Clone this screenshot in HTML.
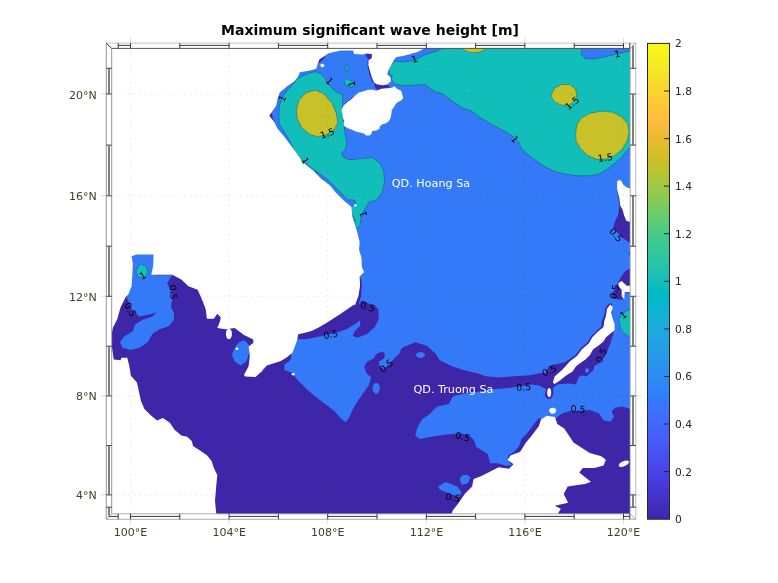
<!DOCTYPE html>
<html><head><meta charset="utf-8"><title>Maximum significant wave height</title>
<style>html,body{margin:0;padding:0;background:#fff}svg{display:block;will-change:transform}text{font-family:"DejaVu Sans","Liberation Sans",sans-serif}</style></head><body>
<svg width="778" height="583" viewBox="0 0 778 583">
<defs>
<linearGradient id="cb" x1="0" y1="1" x2="0" y2="0">
<stop offset="0.0000" stop-color="#3e26a8"/>
<stop offset="0.0159" stop-color="#402ab4"/>
<stop offset="0.0317" stop-color="#422ec0"/>
<stop offset="0.0476" stop-color="#4332cb"/>
<stop offset="0.0635" stop-color="#4537d5"/>
<stop offset="0.0794" stop-color="#463cde"/>
<stop offset="0.0952" stop-color="#4741e5"/>
<stop offset="0.1111" stop-color="#4747eb"/>
<stop offset="0.1270" stop-color="#484df0"/>
<stop offset="0.1429" stop-color="#4852f4"/>
<stop offset="0.1587" stop-color="#4758f8"/>
<stop offset="0.1746" stop-color="#465efb"/>
<stop offset="0.1905" stop-color="#4563fd"/>
<stop offset="0.2063" stop-color="#4269fe"/>
<stop offset="0.2222" stop-color="#3e6fff"/>
<stop offset="0.2381" stop-color="#3875fe"/>
<stop offset="0.2540" stop-color="#327cfc"/>
<stop offset="0.2698" stop-color="#2f81fa"/>
<stop offset="0.2857" stop-color="#2e87f7"/>
<stop offset="0.3016" stop-color="#2d8cf3"/>
<stop offset="0.3175" stop-color="#2b91ef"/>
<stop offset="0.3333" stop-color="#2797eb"/>
<stop offset="0.3492" stop-color="#259be8"/>
<stop offset="0.3651" stop-color="#23a0e5"/>
<stop offset="0.3810" stop-color="#20a5e3"/>
<stop offset="0.3968" stop-color="#1ca9df"/>
<stop offset="0.4127" stop-color="#18addb"/>
<stop offset="0.4286" stop-color="#12b1d6"/>
<stop offset="0.4444" stop-color="#08b5d0"/>
<stop offset="0.4603" stop-color="#01b8ca"/>
<stop offset="0.4762" stop-color="#02bac3"/>
<stop offset="0.4921" stop-color="#0bbdbd"/>
<stop offset="0.5079" stop-color="#19bfb6"/>
<stop offset="0.5238" stop-color="#24c1ae"/>
<stop offset="0.5397" stop-color="#2cc4a7"/>
<stop offset="0.5556" stop-color="#31c69f"/>
<stop offset="0.5714" stop-color="#37c897"/>
<stop offset="0.5873" stop-color="#3fca8e"/>
<stop offset="0.6032" stop-color="#4acb84"/>
<stop offset="0.6190" stop-color="#57cc7a"/>
<stop offset="0.6349" stop-color="#64cd6f"/>
<stop offset="0.6508" stop-color="#72cd64"/>
<stop offset="0.6667" stop-color="#81cc59"/>
<stop offset="0.6825" stop-color="#8fcb4e"/>
<stop offset="0.6984" stop-color="#9dc943"/>
<stop offset="0.7143" stop-color="#abc739"/>
<stop offset="0.7302" stop-color="#b9c431"/>
<stop offset="0.7460" stop-color="#c5c22a"/>
<stop offset="0.7619" stop-color="#d1bf27"/>
<stop offset="0.7778" stop-color="#dcbd29"/>
<stop offset="0.7937" stop-color="#e6bb2d"/>
<stop offset="0.8095" stop-color="#f0ba36"/>
<stop offset="0.8254" stop-color="#f8ba3d"/>
<stop offset="0.8413" stop-color="#febe3c"/>
<stop offset="0.8571" stop-color="#fec338"/>
<stop offset="0.8730" stop-color="#fec934"/>
<stop offset="0.8889" stop-color="#fccf30"/>
<stop offset="0.9048" stop-color="#fad62d"/>
<stop offset="0.9206" stop-color="#f7dc2a"/>
<stop offset="0.9365" stop-color="#f5e327"/>
<stop offset="0.9524" stop-color="#f5e924"/>
<stop offset="0.9683" stop-color="#f6ef20"/>
<stop offset="0.9841" stop-color="#f7f51b"/>
<stop offset="1.0000" stop-color="#f9fb15"/>
</linearGradient>
<clipPath id="clip"><rect x="112" y="48" width="518" height="466"/></clipPath>
</defs>
<rect width="778" height="583" fill="#fff"/>
<g clip-path="url(#clip)" shape-rendering="geometricPrecision">
<path d="M100.0 30.0 L645.0 30.0 L645.0 530.0 L100.0 530.0Z" fill="#347af8"/>
<path d="M100.0 246.0 L215.0 246.0 L275.0 340.0 L280.0 352.0 L287.0 353.2 L291.6 354.5 L290.5 359.9 L284.5 364.5 L284.3 370.1 L291.3 372.4 L298.2 380.5 L306.3 388.7 L315.6 396.8 L324.9 403.7 L334.1 410.7 L341.1 418.8 L345.7 422.2 L349.2 417.6 L352.7 409.5 L357.3 401.4 L363.1 393.3 L368.9 385.2 L371.2 377.1 L366.6 373.6 L364.2 366.7 L366.6 362.0 L373.5 358.5 L377.0 353.4 L382.8 351.6 L386.2 355.1 L389.7 359.7 L394.4 357.4 L396.7 351.6 L403.6 347.0 L415.2 342.3 L426.8 345.8 L436.0 353.9 L439.5 360.1 L451.1 365.9 L465.0 370.5 L476.6 372.9 L485.8 376.3 L499.7 377.5 L513.6 376.3 L529.8 375.2 L541.4 372.9 L545.7 372.9 L548.6 366.3 L557.2 364.1 L564.0 362.4 L569.2 359.5 L575.2 355.2 L580.8 348.3 L587.7 342.3 L591.1 336.3 L596.3 331.2 L601.4 326.4 L602.1 320.5 L604.2 315.4 L605.2 308.5 L608.6 303.7 L612.0 303.4 L612.0 312.3 L612.9 324.3 L614.1 331.2 L632.6 329.9 L640.0 530.0 L100.0 530.0Z" fill="#3e26a8"/>
<path d="M358.4 275.4 L361.2 278.9 L361.9 285.8 L361.0 296.2 L358.4 305.0 L361.9 300.6 L375.8 306.4 L378.6 309.9 L378.6 319.2 L374.7 327.3 L366.6 334.2 L357.3 337.7 L352.7 335.8 L355.0 330.7 L360.1 326.1 L360.1 320.3 L357.3 322.6 L348.0 328.4 L338.8 331.9 L323.7 335.4 L315.6 337.2 L306.3 339.3 L298.2 339.3 L294.7 330.7 L329.5 316.8 L352.7 300.6 L356.1 299.7 L357.3 278.9Z" fill="#3e26a8"/>
<path d="M617.4 191.6 L618.7 200.1 L619.4 206.3 L617.9 215.6 L614.8 221.7 L613.3 227.9 L621.7 237.2 L632.6 244.9 L632.6 187.8Z" fill="#3e26a8"/>
<path d="M632.6 267.0 L624.8 271.6 L621.0 277.0 L617.9 282.5 L614.8 289.4 L611.7 294.0 L612.5 297.9 L618.7 299.4 L623.6 299.4 L624.8 292.5 L632.6 292.5Z" fill="#3e26a8"/>
<path d="M628.7 251.6 L632.6 251.6 L632.6 256.2 L629.2 255.4Z" fill="#3e26a8"/>
<path d="M317.7 58.7 L323.9 54.8 L325.4 57.1 L321.6 61.0 L318.5 63.3Z" fill="#3e26a8"/>
<path d="M365.6 53.6 L371.8 53.3 L372.5 57.9 L369.5 60.2 L366.4 57.1Z" fill="#3e26a8"/>
<path d="M374.1 82.3 L377.2 83.4 L382.6 85.7 L387.2 84.5 L390.3 87.2 L382.6 88.8 L378.0 90.3 L374.9 87.2Z" fill="#3e26a8"/>
<path d="M344.7 103.5 L350.2 99.6 L354.8 95.7 L356.3 98.1 L348.6 105.0Z" fill="#3e26a8"/>
<path d="M367.9 58.7 L368.7 65.6 L370.5 71.8 L372.1 77.2 L374.6 82.6 L372.5 82.6 L369.5 74.9 L367.5 65.6Z" fill="#3e26a8"/>
<path d="M268.1 115.8 L271.6 112.3 L273.9 121.6 L270.4 119.3Z" fill="#3e26a8"/>
<path d="M415.2 435.4 L417.5 427.3 L422.1 419.2 L429.1 414.5 L437.2 406.4 L448.8 404.1 L453.4 396.0 L467.3 393.0 L481.2 391.4 L495.1 389.1 L509.0 387.9 L532.1 384.4 L539.1 385.6 L546.0 389.1 L544.8 396.1 L547.6 399.1 L551.3 398.4 L553.4 393.8 L553.1 388.0 L557.3 384.5 L568.9 383.4 L575.8 384.5 L578.1 378.7 L580.5 375.3 L586.2 376.4 L593.2 370.6 L594.4 366.0 L599.0 363.5 L605.9 354.2 L610.6 342.7 L614.7 328.8 L632.6 328.8 L632.6 408.9 L630.3 408.9 L622.1 406.5 L615.2 407.7 L611.7 411.2 L614.0 417.0 L610.6 421.6 L603.6 420.4 L599.0 413.5 L589.7 410.0 L568.9 411.2 L561.9 413.5 L556.1 418.1 L546.9 415.8 L541.1 419.3 L538.8 418.1 L534.1 423.9 L527.2 433.2 L521.4 439.0 L519.1 445.9 L514.4 451.7 L508.6 455.2 L507.5 459.8 L512.1 465.6 L505.2 465.6 L498.2 463.3 L490.1 463.3 L487.8 454.0 L482.0 450.5 L476.2 447.1 L473.9 440.1 L469.3 435.5 L460.0 433.2 L448.8 434.2 L432.5 436.6 L419.8 438.9Z" fill="#347af8"/>
<path d="M131.6 253.9 L154.8 253.9 L154.8 275.2 L172.2 275.2 L167.1 282.9 L170.6 289.8 L172.2 299.1 L171.0 307.2 L174.0 313.0 L173.8 319.9 L168.7 326.2 L159.4 329.2 L152.5 333.8 L147.9 341.9 L139.7 347.7 L130.5 350.0 L122.4 347.7 L120.1 341.9 L124.7 336.1 L132.8 331.5 L135.1 324.5 L142.1 319.9 L152.5 316.4 L156.4 312.3 L151.3 314.1 L139.7 316.4 L132.8 310.7 L127.0 297.9 L125.8 286.3 L128.2 263.2Z" fill="#347af8"/>
<path d="M384.9 353.1 L390.6 354.3 L396.9 349.8 L401.8 347.7 L399.3 353.4 L393.9 358.8 L388.8 364.2 L383.8 368.7 L379.5 366.6 L378.9 362.1 L384.3 357.9Z" fill="#347af8"/>
<path d="M238.2 343.1 L244.0 340.1 L248.6 344.2 L249.1 353.5 L246.3 361.6 L240.5 365.6 L234.7 361.6 L231.9 354.7 L234.7 347.7Z" fill="#347af8"/>
<path d="M379.8 388.3 L379.5 390.4 L378.7 392.1 L377.6 393.3 L376.2 393.7 L374.8 393.3 L373.7 392.1 L372.9 390.4 L372.6 388.3 L372.9 386.2 L373.7 384.5 L374.8 383.3 L376.2 382.9 L377.6 383.3 L378.7 384.5 L379.5 386.2Z" fill="#347af8"/>
<path d="M425.0 355.0 L424.7 356.1 L423.7 357.1 L422.2 357.8 L420.5 358.0 L418.8 357.8 L417.3 357.1 L416.3 356.1 L416.0 355.0 L416.3 353.9 L417.3 352.9 L418.8 352.2 L420.5 352.0 L422.2 352.2 L423.7 352.9 L424.7 353.9Z" fill="#347af8"/>
<path d="M461.7 476.2 L467.6 474.7 L470.6 477.6 L466.2 483.6 L461.7 485.0 L460.3 480.6Z" fill="#347af8"/>
<path d="M438.1 486.5 L445.5 482.1 L457.3 486.5 L461.7 492.4 L458.8 496.9 L446.9 492.4 L439.6 489.5Z" fill="#347af8"/>
<path d="M469.2 479.5 L468.8 481.3 L467.9 482.8 L466.4 483.7 L464.6 484.1 L462.8 483.7 L461.3 482.8 L460.4 481.3 L460.0 479.5 L460.4 477.7 L461.3 476.2 L462.8 475.3 L464.6 474.9 L466.4 475.3 L467.9 476.2 L468.8 477.7Z" fill="#347af8"/>
<path d="M589.0 370.5 L588.8 371.5 L588.4 372.3 L587.8 372.8 L587.0 373.0 L586.2 372.8 L585.6 372.3 L585.2 371.5 L585.0 370.5 L585.2 369.5 L585.6 368.7 L586.2 368.2 L587.0 368.0 L587.8 368.2 L588.4 368.7 L588.8 369.5Z" fill="#347af8"/>
<path d="M302.8 75.8 L309.8 72.9 L315.6 71.7 L320.3 73.5 L324.4 77.6 L328.4 83.4 L333.1 89.2 L337.8 92.7 L342.4 94.5 L342.7 102.6 L341.8 110.8 L342.5 115.0 L344.1 124.4 L345.0 133.4 L346.8 142.4 L345.9 147.8 L341.4 154.1 L344.1 157.7 L349.5 159.9 L362.1 158.6 L372.9 157.7 L380.1 163.2 L383.7 171.3 L384.6 182.1 L381.9 192.9 L376.5 200.1 L369.3 201.9 L366.6 206.4 L365.5 207.8 L362.4 213.2 L360.8 219.3 L359.7 226.3 L358.5 227.6 L355.4 227.6 L355.2 220.9 L353.1 216.3 L351.2 212.4 L351.4 206.6 L355.8 204.0 L354.7 200.3 L351.6 199.7 L348.0 200.1 L338.8 190.8 L327.2 179.3 L314.4 170.0 L317.9 173.7 L306.3 163.3 L294.7 152.9 L291.3 143.6 L283.2 129.7 L279.2 124.0 L278.9 114.3 L279.5 106.1 L281.2 100.3 L284.1 94.5 L288.8 88.6 L293.5 84.0 L297.0 79.3Z" fill="#12beb9" stroke="#000" stroke-width="0.45" stroke-opacity="0.55"/>
<path d="M389.3 73.9 L388.9 68.7 L391.7 64.6 L395.3 61.5 L403.0 61.8 L411.8 61.0 L420.0 57.4 L425.5 54.4 L437.1 50.9 L446.3 46.3 L580.0 34.7 L640.0 30.0 L640.0 150.0 L630.5 146.5 L624.3 154.1 L617.1 161.4 L608.1 168.6 L599.1 174.0 L590.1 175.8 L577.5 175.8 L564.9 174.0 L554.0 171.3 L545.0 166.8 L536.0 160.5 L527.0 154.1 L521.6 148.7 L518.9 142.4 L513.5 136.7 L504.2 130.9 L492.7 125.1 L481.1 118.1 L471.8 111.2 L462.5 107.7 L453.3 101.9 L442.9 93.8 L434.7 91.5 L425.5 84.5 L413.9 85.2 L403.6 85.4 L394.5 84.0 L391.4 79.5 L392.4 76.1Z" fill="#12beb9" stroke="#000" stroke-width="0.45" stroke-opacity="0.55"/>
<path d="M345.5 65.3 L346.8 64.7 L348.0 65.6 L348.1 68.4 L347.1 71.0 L345.8 70.6 L345.2 67.9Z" fill="#12beb9" stroke="#000" stroke-width="0.45" stroke-opacity="0.55"/>
<path d="M344.0 80.3 L346.3 78.3 L350.2 80.3 L354.8 83.4 L353.2 86.5 L348.6 86.9 L344.7 84.5Z" fill="#12beb9" stroke="#000" stroke-width="0.45" stroke-opacity="0.55"/>
<path d="M136.3 269.0 L140.9 263.9 L146.7 266.6 L147.9 272.4 L144.4 278.2 L138.6 277.1 L136.3 273.6Z" fill="#12beb9" stroke="#000" stroke-width="0.45" stroke-opacity="0.55"/>
<path d="M632.6 309.1 L630.3 309.1 L622.1 313.7 L618.7 319.5 L621.0 329.9 L626.8 335.7 L632.6 336.9Z" fill="#12beb9" stroke="#000" stroke-width="0.45" stroke-opacity="0.55"/>
<path d="M581.4 46.3 L581.4 54.4 L584.9 58.4 L594.1 59.1 L605.7 56.7 L617.3 53.7 L631.2 50.9 L631.2 46.3Z" fill="#347af8" stroke="#000" stroke-width="0.45" stroke-opacity="0.55"/>
<path d="M315.6 90.3 L323.7 93.8 L331.8 103.1 L336.4 113.5 L337.6 122.8 L334.1 129.7 L327.2 134.3 L317.9 136.7 L309.8 134.3 L301.7 127.4 L297.1 118.1 L296.6 108.9 L299.4 99.6 L306.3 92.6Z" fill="#c8c129" stroke="#000" stroke-width="0.45" stroke-opacity="0.55"/>
<path d="M551.7 93.8 L554.7 88.0 L561.7 84.5 L569.8 84.5 L575.6 89.2 L576.8 96.1 L573.3 101.9 L567.5 106.1 L560.5 104.7 L554.7 101.9 L551.7 97.3Z" fill="#c8c129" stroke="#000" stroke-width="0.45" stroke-opacity="0.55"/>
<path d="M575.6 134.3 L576.8 125.1 L581.4 118.1 L589.5 113.5 L601.1 111.2 L612.7 112.3 L621.9 117.0 L627.7 123.9 L628.9 132.0 L627.0 141.3 L621.9 149.4 L615.0 155.2 L605.7 159.1 L596.4 159.1 L587.2 155.2 L580.2 148.2 L576.3 141.3Z" fill="#c8c129" stroke="#000" stroke-width="0.45" stroke-opacity="0.55"/>
<path d="M462.5 46.3 L463.7 49.8 L468.3 51.9 L474.1 52.8 L479.9 51.9 L484.5 49.8 L485.7 46.3Z" fill="#c8c129" stroke="#000" stroke-width="0.45" stroke-opacity="0.55"/>
<path d="M440.0 30.0 L424.3 48.6 L418.1 51.7 L408.8 54.5 L402.7 56.0 L396.5 57.1 L394.2 59.4 L391.9 64.1 L388.8 69.5 L387.2 74.1 L390.3 77.2 L391.1 81.1 L387.2 84.5 L382.6 85.1 L377.2 84.5 L374.1 82.6 L371.8 77.2 L370.2 71.8 L368.4 65.6 L368.7 60.2 L371.8 57.9 L371.8 54.0 L366.4 53.6 L362.5 54.5 L354.0 54.0 L353.2 50.5 L340.9 50.5 L328.5 53.3 L323.9 56.4 L319.3 59.4 L317.7 64.1 L316.2 68.7 L310.0 70.6 L299.8 72.3 L298.2 76.4 L294.7 81.1 L287.8 85.7 L279.7 92.6 L277.4 99.6 L276.2 105.4 L269.3 115.8 L273.9 121.6 L277.4 128.5 L284.3 136.7 L291.3 145.9 L297.1 154.0 L304.0 163.3 L314.4 171.4 L320.7 178.6 L329.5 185.1 L336.4 193.2 L344.5 201.3 L351.5 207.1 L352.2 216.3 L355.0 224.4 L357.3 232.5 L359.6 241.8 L359.1 249.9 L361.5 258.0 L361.9 267.3 L364.2 271.9 L359.6 276.6 L360.1 285.8 L358.4 296.2 L355.0 305.0 L353.8 304.8 L348.0 308.7 L341.1 313.4 L334.1 318.0 L327.2 322.6 L319.1 327.3 L312.1 330.7 L304.0 333.1 L298.2 334.2 L297.1 340.0 L294.7 347.0 L292.4 352.8 L286.6 357.4 L280.8 360.9 L273.9 363.2 L266.9 365.5 L262.3 370.1 L260.0 373.6 L267.1 366.0 L255.6 377.1 L245.1 376.4 L244.0 375.0 L248.6 366.2 L249.8 355.8 L248.6 346.6 L253.3 343.1 L253.3 339.6 L244.0 335.0 L234.7 328.0 L225.5 329.2 L217.3 328.0 L219.7 322.2 L220.8 317.6 L217.3 313.7 L213.9 318.8 L206.9 318.8 L205.8 309.5 L202.3 300.2 L197.7 289.8 L188.4 286.3 L181.4 279.4 L172.2 274.7 L158.3 274.7 L151.3 274.7 L153.2 265.5 L153.6 254.4 L136.3 254.4 L131.6 256.2 L132.8 263.2 L132.3 274.7 L131.6 286.3 L128.2 294.4 L125.7 296.9 L120.6 307.2 L117.2 319.2 L112.9 327.7 L111.1 336.3 L111.7 346.6 L112.9 353.5 L113.7 359.5 L120.6 360.3 L121.4 357.8 L127.4 357.8 L128.3 362.0 L129.2 365.5 L130.9 375.8 L136.9 382.6 L138.6 390.0 L140.9 400.7 L144.4 408.9 L151.3 415.8 L157.1 420.4 L162.9 418.1 L169.9 422.8 L174.5 429.7 L181.4 435.5 L187.2 436.7 L191.9 441.3 L193.0 445.9 L200.0 450.5 L206.9 455.2 L211.6 461.0 L213.9 467.9 L217.3 474.9 L216.2 486.5 L215.0 501.0 L216.3 514.0 L216.3 530.0 L100.0 530.0 L100.0 30.0Z" fill="#ffffff"/>
<path d="M341.3 109.9 L343.9 105.2 L347.5 102.1 L351.1 99.6 L355.2 95.4 L358.8 92.4 L364.0 91.3 L368.1 89.8 L373.3 89.8 L376.3 90.8 L381.5 88.8 L387.7 88.2 L391.8 87.7 L394.4 86.2 L396.9 88.8 L401.1 90.8 L402.6 95.4 L403.1 98.5 L401.1 100.6 L398.0 102.1 L395.4 104.2 L393.9 107.3 L391.8 109.9 L391.3 114.5 L390.2 119.1 L388.7 121.2 L386.1 123.3 L382.5 124.3 L379.9 126.3 L379.4 128.9 L376.3 130.5 L372.2 131.0 L371.2 134.1 L369.6 135.6 L366.0 135.6 L364.0 133.6 L359.9 132.5 L355.7 131.5 L352.7 129.9 L348.5 128.4 L344.4 126.3 L343.4 123.3 L344.4 121.2 L342.9 118.1 L342.4 114.0Z" fill="#ffffff"/>
<path d="M451.4 520.5 L451.4 514.0 L452.9 510.2 L458.8 502.8 L464.7 493.9 L472.1 486.5 L473.6 479.1 L480.9 476.2 L489.8 471.7 L498.7 467.3 L509.0 468.8 L513.5 464.3 L507.5 459.9 L510.5 455.5 L520.2 451.7 L526.0 442.4 L531.8 435.5 L538.8 426.2 L541.1 419.3 L546.9 415.8 L555.0 417.0 L557.3 423.9 L564.2 428.5 L568.9 435.5 L573.5 442.4 L580.5 447.1 L589.7 452.9 L601.3 456.3 L605.9 459.8 L603.6 465.6 L594.4 467.9 L582.8 467.9 L579.3 472.6 L585.1 477.2 L590.9 481.8 L585.1 484.1 L575.8 485.3 L567.7 486.5 L563.7 493.9 L568.1 502.8 L554.8 505.7 L560.8 508.7 L557.8 514.0 L557.8 520.5Z" fill="#ffffff"/>
<path d="M552.9 382.6 L554.6 376.6 L562.3 369.8 L570.0 361.2 L576.9 356.0 L582.0 349.2 L588.9 343.2 L592.3 337.2 L597.5 332.0 L603.5 326.9 L604.3 320.9 L606.0 315.7 L606.9 308.9 L610.3 304.6 L612.9 307.2 L611.2 312.3 L612.9 319.2 L614.6 324.3 L614.6 330.3 L610.3 333.7 L606.0 337.2 L603.5 341.5 L598.3 345.7 L593.2 349.2 L589.7 355.2 L585.5 359.5 L580.3 362.9 L576.0 366.3 L572.6 371.5 L565.7 375.8 L560.6 380.1 L554.6 384.0Z" fill="#ffffff"/>
<path d="M617.1 181.6 L619.4 179.8 L621.7 181.6 L623.3 184.7 L627.2 187.8 L632.6 188.6 L632.6 222.5 L626.4 221.0 L624.1 215.6 L622.5 209.4 L620.2 205.5 L619.4 198.6 L617.9 192.4 L617.1 187.8Z" fill="#ffffff"/>
<path d="M618.4 282.9 L621.7 280.9 L626.7 285.8 L632.6 285.8 L632.6 291.9 L624.8 291.9 L624.2 299.6 L621.7 296.3 L621.7 289.7 L618.7 286.6Z" fill="#ffffff"/>
<path d="M356.7 205.4 L356.6 205.9 L356.3 206.3 L355.8 206.6 L355.3 206.7 L354.8 206.6 L354.3 206.3 L354.0 205.9 L353.9 205.4 L354.0 204.9 L354.3 204.5 L354.8 204.2 L355.3 204.1 L355.8 204.2 L356.3 204.5 L356.6 204.9Z" fill="#ffffff"/>
<path d="M294.9 374.2 L294.8 374.7 L294.4 375.0 L293.9 375.3 L293.2 375.4 L292.5 375.3 L292.0 375.0 L291.6 374.7 L291.5 374.2 L291.6 373.7 L292.0 373.4 L292.5 373.1 L293.2 373.0 L293.9 373.1 L294.4 373.4 L294.8 373.7Z" fill="#ffffff"/>
<path d="M551.2 392.6 L551.0 394.4 L550.6 395.9 L550.0 396.8 L549.2 397.2 L548.4 396.8 L547.8 395.9 L547.4 394.4 L547.2 392.6 L547.4 390.8 L547.8 389.3 L548.4 388.4 L549.2 388.0 L550.0 388.4 L550.6 389.3 L551.0 390.8Z" fill="#ffffff"/>
<path d="M556.2 410.7 L555.9 411.8 L555.2 412.8 L554.0 413.5 L552.7 413.7 L551.4 413.5 L550.2 412.8 L549.5 411.8 L549.2 410.7 L549.5 409.6 L550.2 408.6 L551.4 407.9 L552.7 407.7 L554.0 407.9 L555.2 408.6 L555.9 409.6Z" fill="#ffffff"/>
<path d="M628.8 461.5 L628.8 462.5 L628.1 463.8 L626.7 465.0 L624.9 466.1 L622.9 466.8 L621.0 467.0 L619.6 466.8 L618.8 466.1 L618.8 465.1 L619.5 463.8 L620.9 462.6 L622.7 461.5 L624.7 460.8 L626.6 460.6 L628.0 460.8Z" fill="#ffffff"/>
<path d="M231.9 333.8 L231.7 335.9 L231.0 337.7 L230.0 338.9 L228.9 339.3 L227.8 338.9 L226.8 337.7 L226.1 335.9 L225.9 333.8 L226.1 331.7 L226.8 329.9 L227.8 328.7 L228.9 328.3 L230.0 328.7 L231.0 329.9 L231.7 331.7Z" fill="#ffffff"/>
<path d="M238.3 348.8 L238.2 349.3 L237.9 349.7 L237.5 350.0 L237.0 350.1 L236.5 350.0 L236.1 349.7 L235.8 349.3 L235.7 348.8 L235.8 348.3 L236.1 347.9 L236.5 347.6 L237.0 347.5 L237.5 347.6 L237.9 347.9 L238.2 348.3Z" fill="#ffffff"/>
<path d="M320.5 64.1 L323.1 63.8 L324.7 65.6 L323.1 67.2 L320.8 66.9Z" fill="#ffffff"/>
</g>
<g stroke="#404026" stroke-opacity="0.17" stroke-width="1" stroke-dasharray="1.2 4.4" fill="none">
<line x1="130.5" y1="48.4" x2="130.5" y2="514.0"/>
<line x1="229.1" y1="48.4" x2="229.1" y2="514.0"/>
<line x1="327.7" y1="48.4" x2="327.7" y2="514.0"/>
<line x1="426.3" y1="48.4" x2="426.3" y2="514.0"/>
<line x1="524.9" y1="48.4" x2="524.9" y2="514.0"/>
<line x1="623.5" y1="48.4" x2="623.5" y2="514.0"/>
<line x1="111.5" y1="494.9" x2="630.0" y2="494.9"/>
<line x1="111.5" y1="395.9" x2="630.0" y2="395.9"/>
<line x1="111.5" y1="296.3" x2="630.0" y2="296.3"/>
<line x1="111.5" y1="195.8" x2="630.0" y2="195.8"/>
<line x1="111.5" y1="94.0" x2="630.0" y2="94.0"/>
</g>
<text x="282" y="98.4" font-size="9.4" fill="#000" text-anchor="middle" dominant-baseline="central" transform="rotate(-65 282 98.4)">1</text>
<text x="329.5" y="81" font-size="9.4" fill="#000" text-anchor="middle" dominant-baseline="central" transform="rotate(50 329.5 81)">1</text>
<text x="351.5" y="83.8" font-size="9.4" fill="#000" text-anchor="middle" dominant-baseline="central" transform="rotate(-100 351.5 83.8)">1</text>
<text x="327.2" y="133.2" font-size="9.4" fill="#000" text-anchor="middle" dominant-baseline="central" transform="rotate(-20 327.2 133.2)">1.5</text>
<text x="305.2" y="160.5" font-size="9.4" fill="#000" text-anchor="middle" dominant-baseline="central" transform="rotate(60 305.2 160.5)">1</text>
<text x="363" y="214" font-size="9.4" fill="#000" text-anchor="middle" dominant-baseline="central" transform="rotate(-105 363 214)">1</text>
<text x="414.4" y="59" font-size="9.4" fill="#000" text-anchor="middle" dominant-baseline="central" transform="rotate(-20 414.4 59)">1</text>
<text x="515" y="139" font-size="9.4" fill="#000" text-anchor="middle" dominant-baseline="central" transform="rotate(50 515 139)">1</text>
<text x="572" y="103" font-size="9.4" fill="#000" text-anchor="middle" dominant-baseline="central" transform="rotate(-40 572 103)">1.5</text>
<text x="605.2" y="157.5" font-size="9.4" fill="#000" text-anchor="middle" dominant-baseline="central" transform="rotate(-8 605.2 157.5)">1.5</text>
<text x="617.3" y="53.7" font-size="9.4" fill="#000" text-anchor="middle" dominant-baseline="central" transform="rotate(-10 617.3 53.7)">1</text>
<text x="616.3" y="234.9" font-size="9.4" fill="#000" text-anchor="middle" dominant-baseline="central" transform="rotate(50 616.3 234.9)">0.5</text>
<text x="614.3" y="291.7" font-size="9.4" fill="#000" text-anchor="middle" dominant-baseline="central" transform="rotate(-75 614.3 291.7)">0.5</text>
<text x="623.3" y="314.9" font-size="9.4" fill="#000" text-anchor="middle" dominant-baseline="central" transform="rotate(-35 623.3 314.9)">1</text>
<text x="601.3" y="355.4" font-size="9.4" fill="#000" text-anchor="middle" dominant-baseline="central" transform="rotate(-65 601.3 355.4)">0.5</text>
<text x="549.2" y="370.5" font-size="9.4" fill="#000" text-anchor="middle" dominant-baseline="central" transform="rotate(-25 549.2 370.5)">0.5</text>
<text x="523.7" y="386.8" font-size="9.4" fill="#000" text-anchor="middle" dominant-baseline="central" transform="rotate(-5 523.7 386.8)">0.5</text>
<text x="578.1" y="408.9" font-size="9.4" fill="#000" text-anchor="middle" dominant-baseline="central" transform="rotate(5 578.1 408.9)">0.5</text>
<text x="462.7" y="436.6" font-size="9.4" fill="#000" text-anchor="middle" dominant-baseline="central" transform="rotate(15 462.7 436.6)">0.5</text>
<text x="452.9" y="497.4" font-size="9.4" fill="#000" text-anchor="middle" dominant-baseline="central" transform="rotate(10 452.9 497.4)">0.5</text>
<text x="386.2" y="365.7" font-size="9.4" fill="#000" text-anchor="middle" dominant-baseline="central" transform="rotate(-40 386.2 365.7)">0.5</text>
<text x="367.7" y="306.4" font-size="9.4" fill="#000" text-anchor="middle" dominant-baseline="central" transform="rotate(20 367.7 306.4)">0.5</text>
<text x="330.7" y="334.2" font-size="9.4" fill="#000" text-anchor="middle" dominant-baseline="central" transform="rotate(-10 330.7 334.2)">0.5</text>
<text x="173.3" y="292.1" font-size="9.4" fill="#000" text-anchor="middle" dominant-baseline="central" transform="rotate(85 173.3 292.1)">0.5</text>
<text x="130.5" y="309.5" font-size="9.4" fill="#000" text-anchor="middle" dominant-baseline="central" transform="rotate(60 130.5 309.5)">0.5</text>
<text x="142.6" y="275.5" font-size="9.4" fill="#000" text-anchor="middle" dominant-baseline="central" transform="rotate(-30 142.6 275.5)">1</text>
<text x="391.8" y="186.9" font-size="11.2" fill="#fff">QD. Hoang Sa</text>
<text x="413.5" y="392.9" font-size="11.2" fill="#fff">QD. Truong Sa</text>
<g fill="none" stroke-width="1">
<path d="M106.3 43.1 L635.8 43.1" stroke="#dcdcdc" stroke-width="1.9"/>
<path d="M635.8 43.1 L635.8 519.3" stroke="#b4b4b4" stroke-width="0.9"/>
<path d="M106.3 43.1 L106.3 519.3" stroke="#8c8c8c" stroke-width="0.9"/>
<path d="M106.3 519.3 L635.8 519.3" stroke="#a4a4a4" stroke-width="0.9"/>
<path d="M111.7 48.4 L630.2 48.4" stroke="#565656" stroke-width="1"/>
<path d="M111.7 48.4 L111.7 513.8" stroke="#8c8c8c" stroke-width="0.9"/>
<path d="M111.7 513.8 L630.2 513.8 L630.2 48.4" stroke="#a4a4a4" stroke-width="0.9"/>
<path d="M106.3 43.1 L111.7 48.4" stroke="#333"/>
<path d="M635.8 43.1 L630.2 48.4 M635.8 519.3 L630.2 513.8 M106.3 519.3 L111.7 513.8" stroke="#999" stroke-width="0.9"/>
<path d="M118.2 43.1 L118.2 48.4 M118.2 513.8 L118.2 519.3 M130.5 43.1 L130.5 48.4 M130.5 513.8 L130.5 519.3 M179.8 43.1 L179.8 48.4 M179.8 513.8 L179.8 519.3 M229.1 43.1 L229.1 48.4 M229.1 513.8 L229.1 519.3 M278.4 43.1 L278.4 48.4 M278.4 513.8 L278.4 519.3 M327.7 43.1 L327.7 48.4 M327.7 513.8 L327.7 519.3 M377.0 43.1 L377.0 48.4 M377.0 513.8 L377.0 519.3 M426.3 43.1 L426.3 48.4 M426.3 513.8 L426.3 519.3 M475.6 43.1 L475.6 48.4 M475.6 513.8 L475.6 519.3 M524.9 43.1 L524.9 48.4 M524.9 513.8 L524.9 519.3 M574.2 43.1 L574.2 48.4 M574.2 513.8 L574.2 519.3 M623.5 43.1 L623.5 48.4 M623.5 513.8 L623.5 519.3 M118.2 45.4 L130.5 45.4 M179.8 45.4 L229.1 45.4 M278.4 45.4 L327.7 45.4 M377.0 45.4 L426.3 45.4 M475.6 45.4 L524.9 45.4 M574.2 45.4 L623.5 45.4 M130.5 516.4 L179.8 516.4 M229.1 516.4 L278.4 516.4 M327.7 516.4 L377.0 516.4 M426.3 516.4 L475.6 516.4 M524.9 516.4 L574.2 516.4 M623.5 516.4 L629.9 516.4 M106.3 68.3 L111.7 68.3 M630.2 68.3 L635.8 68.3 M106.3 94.0 L111.7 94.0 M630.2 94.0 L635.8 94.0 M106.3 145.1 L111.7 145.1 M630.2 145.1 L635.8 145.1 M106.3 195.8 L111.7 195.8 M630.2 195.8 L635.8 195.8 M106.3 246.2 L111.7 246.2 M630.2 246.2 L635.8 246.2 M106.3 296.3 L111.7 296.3 M630.2 296.3 L635.8 296.3 M106.3 346.2 L111.7 346.2 M630.2 346.2 L635.8 346.2 M106.3 395.9 L111.7 395.9 M630.2 395.9 L635.8 395.9 M106.3 445.5 L111.7 445.5 M630.2 445.5 L635.8 445.5 M106.3 494.9 L111.7 494.9 M630.2 494.9 L635.8 494.9 M106.3 507.2 L111.7 507.2 M630.2 507.2 L635.8 507.2 " stroke="#3a3a3a"/>
<path d="M109.0 68.3 L109.0 94.0 M109.0 145.1 L109.0 195.8 M109.0 246.2 L109.0 296.3 M109.0 346.2 L109.0 395.9 M109.0 445.5 L109.0 494.9 M633.0 94.0 L633.0 145.1 M633.0 195.8 L633.0 246.2 M633.0 296.3 L633.0 346.2 M633.0 395.9 L633.0 445.5 M633.0 494.9 L633.0 507.2 M633.0 45.7 L633.0 68.3 M109.0 507.2 L109.0 515.6 " stroke="#6a6a6a" stroke-width="1.7"/>
<path d="M108.6 516.4 L118.2 516.4 M629.8 43.1 L629.8 48.4 M629.8 513.8 L629.8 519.3" stroke="#3a3a3a"/>
<path d="M130.5 37.6 L130.5 43.1 M130.5 519.3 L130.5 524.3 M229.1 37.6 L229.1 43.1 M229.1 519.3 L229.1 524.3 M327.7 37.6 L327.7 43.1 M327.7 519.3 L327.7 524.3 M426.3 37.6 L426.3 43.1 M426.3 519.3 L426.3 524.3 M524.9 37.6 L524.9 43.1 M524.9 519.3 L524.9 524.3 M623.5 37.6 L623.5 43.1 M623.5 519.3 L623.5 524.3 M100.8 494.9 L106.3 494.9 M635.8 494.9 L641.3 494.9 M100.8 395.9 L106.3 395.9 M635.8 395.9 L641.3 395.9 M100.8 296.3 L106.3 296.3 M635.8 296.3 L641.3 296.3 M100.8 195.8 L106.3 195.8 M635.8 195.8 L641.3 195.8 M100.8 94.0 L106.3 94.0 M635.8 94.0 L641.3 94.0 " stroke="#8c8c6e" stroke-opacity="0.28"/>
</g>
<text x="130.6" y="536" font-size="11" fill="#404026" text-anchor="middle">100°E</text>
<text x="229.2" y="536" font-size="11" fill="#404026" text-anchor="middle">104°E</text>
<text x="327.8" y="536" font-size="11" fill="#404026" text-anchor="middle">108°E</text>
<text x="426.4" y="536" font-size="11" fill="#404026" text-anchor="middle">112°E</text>
<text x="525.0" y="536" font-size="11" fill="#404026" text-anchor="middle">116°E</text>
<text x="623.6" y="536" font-size="11" fill="#404026" text-anchor="middle">120°E</text>
<text x="96.8" y="499.4" font-size="11" fill="#404026" text-anchor="end">4°N</text>
<text x="96.8" y="400.4" font-size="11" fill="#404026" text-anchor="end">8°N</text>
<text x="96.8" y="300.8" font-size="11" fill="#404026" text-anchor="end">12°N</text>
<text x="96.8" y="200.3" font-size="11" fill="#404026" text-anchor="end">16°N</text>
<text x="96.8" y="98.5" font-size="11" fill="#404026" text-anchor="end">20°N</text>
<text x="370" y="34.6" font-size="14" font-weight="bold" fill="#000" text-anchor="middle">Maximum significant wave height [m]</text>
<rect x="647.5" y="43.4" width="22.0" height="475.8" fill="url(#cb)" stroke="#262626" stroke-width="1"/>
<text x="675.0" y="523.1" font-size="10.67" fill="#262626">0</text>
<text x="675.0" y="475.5" font-size="10.67" fill="#262626">0.2</text>
<text x="675.0" y="427.9" font-size="10.67" fill="#262626">0.4</text>
<text x="675.0" y="380.4" font-size="10.67" fill="#262626">0.6</text>
<text x="675.0" y="332.8" font-size="10.67" fill="#262626">0.8</text>
<text x="675.0" y="285.2" font-size="10.67" fill="#262626">1</text>
<text x="675.0" y="237.6" font-size="10.67" fill="#262626">1.2</text>
<text x="675.0" y="190.0" font-size="10.67" fill="#262626">1.4</text>
<text x="675.0" y="142.5" font-size="10.67" fill="#262626">1.6</text>
<text x="675.0" y="94.9" font-size="10.67" fill="#262626">1.8</text>
<text x="675.0" y="47.3" font-size="10.67" fill="#262626">2</text>
<path d="M664.0 471.6 L669.5 471.6 M664.0 424.0 L669.5 424.0 M664.0 376.5 L669.5 376.5 M664.0 328.9 L669.5 328.9 M664.0 281.3 L669.5 281.3 M664.0 233.7 L669.5 233.7 M664.0 186.1 L669.5 186.1 M664.0 138.6 L669.5 138.6 M664.0 91.0 L669.5 91.0 " stroke="#262626" stroke-width="1" fill="none"/>
</svg></body></html>
